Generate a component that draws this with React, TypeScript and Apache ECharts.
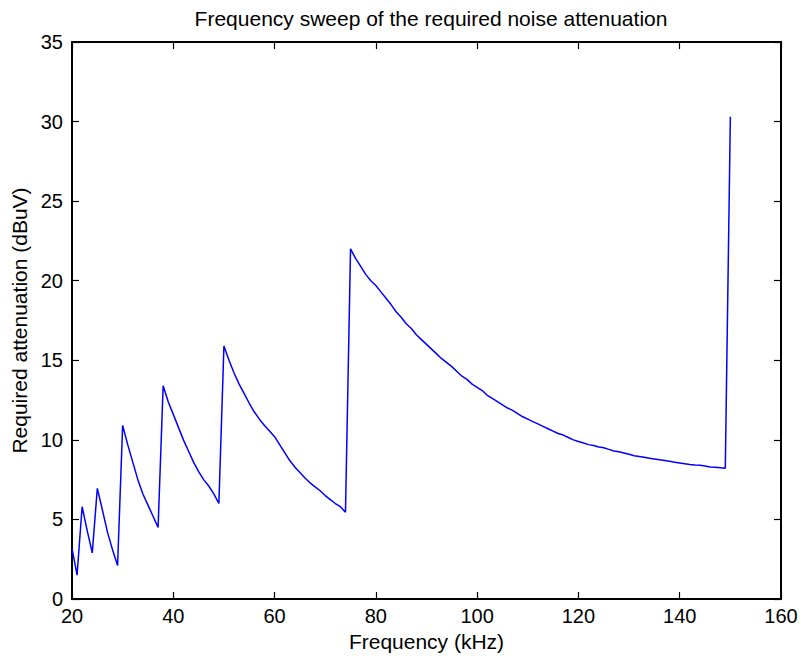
import React, { useEffect, useRef } from "react";
import * as echarts from "echarts";

const titleText = "Frequency sweep of the required noise attenuation";
const xName = "Frequency (kHz)";
const yName = "Required attenuation (dBuV)";

const freqStart = 20;
const attenuation: number[] = [
  3.18, 1.5, 5.8, 4.3, 2.9, 6.95, 5.6, 4.2, 3.1, 2.1,
  10.9, 9.7, 8.6, 7.5, 6.6, 5.9, 5.2, 4.5,
  13.4, 12.4, 11.6, 10.8, 10.0, 9.3, 8.6, 8.0, 7.5, 7.1, 6.6, 6.0,
  15.9, 15.0, 14.2, 13.5, 12.9, 12.3, 11.75, 11.3, 10.9, 10.55, 10.2, 9.7, 9.2, 8.7, 8.3, 7.95, 7.6, 7.3, 7.05, 6.8, 6.5, 6.25, 6.0, 5.8, 5.45,
  22.0, 21.4, 20.9, 20.4, 20.0, 19.7, 19.3, 18.9, 18.5, 18.05, 17.7, 17.3, 17.0, 16.6, 16.3, 16.0, 15.7, 15.4, 15.1, 14.85, 14.6, 14.3, 14.0, 13.8, 13.5, 13.3,
  13.1, 12.8, 12.6, 12.4, 12.2, 12.0, 11.85, 11.65, 11.45, 11.3, 11.15, 11.0, 10.85, 10.7, 10.55, 10.4, 10.3, 10.15, 10.0, 9.9,
  9.8, 9.7, 9.65, 9.55, 9.5, 9.4, 9.3, 9.25, 9.18, 9.1, 9.0, 8.95, 8.9, 8.85, 8.8, 8.75, 8.7, 8.65, 8.6, 8.55,
  8.5, 8.45, 8.42, 8.4, 8.35, 8.3, 8.28, 8.25, 8.22,
  30.3,
];

const xMin = 20, xMax = 160, xStep = 20;
const yMin = 0, yMax = 35, yStep = 5;

export default function App() {
  const ref = useRef<HTMLDivElement>(null);
  useEffect(() => {
    if (!ref.current) return;
    const chart = echarts.init(ref.current, null, { renderer: "svg" });
    const data = attenuation.map((v, i) => [freqStart + i, v]);
    const font = "Liberation Sans, Arial, Helvetica, sans-serif";
    const axisLine = { show: true, onZero: false, lineStyle: { color: "#000", width: 2 } };
    const axisTick = { show: true, inside: true, length: 7, lineStyle: { color: "#000", width: 1.2 } };
    chart.setOption({
      animation: false,
      backgroundColor: "#fff",
      title: {
        text: titleText,
        left: 426,
        top: 3,
        textAlign: "center",
        textStyle: { fontFamily: font, fontSize: 21, fontWeight: "normal", color: "#000" },
      },
      grid: { left: 72, right: 20, top: 42, bottom: 65, containLabel: false },
      xAxis: [
        {
          type: "value", min: xMin, max: xMax, interval: xStep, position: "bottom",
          name: xName, nameLocation: "middle", nameGap: 31,
          nameTextStyle: { fontFamily: font, fontSize: 21, color: "#000" },
          axisLine, axisTick,
          axisLabel: { fontFamily: font, fontSize: 20, color: "#000", margin: 7 },
          splitLine: { show: false },
        },
        {
          type: "value", min: xMin, max: xMax, interval: xStep, position: "top",
          axisLine, axisTick, axisLabel: { show: false }, splitLine: { show: false },
        },
      ],
      yAxis: [
        {
          type: "value", min: yMin, max: yMax, interval: yStep, position: "left",
          name: yName, nameLocation: "middle", nameGap: 42,
          nameTextStyle: { fontFamily: font, fontSize: 21, color: "#000" },
          axisLine, axisTick,
          axisLabel: { fontFamily: font, fontSize: 20, color: "#000", margin: 9 },
          splitLine: { show: false },
        },
        {
          type: "value", min: yMin, max: yMax, interval: yStep, position: "right",
          axisLine, axisTick, axisLabel: { show: false }, splitLine: { show: false },
        },
      ],
      series: [
        {
          type: "line",
          data,
          xAxisIndex: 0,
          yAxisIndex: 0,
          showSymbol: false,
          symbol: "none",
          lineStyle: { color: "#0000ff", width: 1.5 },
        },
      ],
    });
    return () => chart.dispose();
  }, []);
  return <div ref={ref} style={{ width: 801, height: 664, position: "absolute", left: 0, top: 0 }} />;
}
